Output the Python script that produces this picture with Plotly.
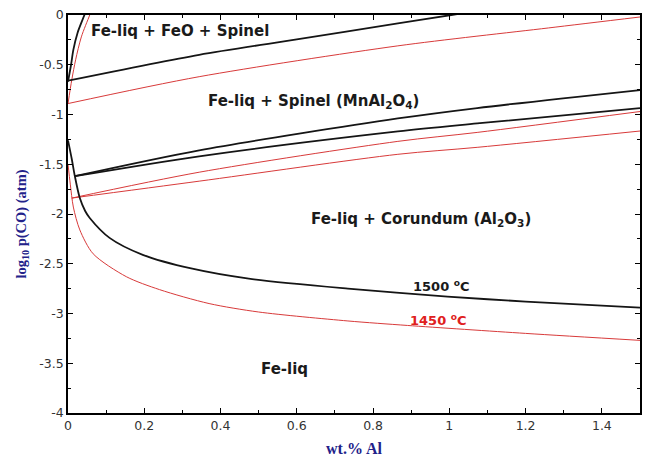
import plotly.graph_objects as go

# Phase boundaries, log10 p(CO) vs wt.% Al, at 1500 C (black) and 1450 C (red)

# Fe-liq / FeO boundary (steep, near zero Al)
feo_steep_1500_x = [0.0, 0.008, 0.014, 0.025, 0.043, 0.05]
feo_steep_1500_y = [-0.67, -0.50, -0.35, -0.18, 0.0, 0.08]
feo_steep_1450_x = [0.0, 0.01, 0.02, 0.035, 0.057, 0.065]
feo_steep_1450_y = [-0.89, -0.65, -0.45, -0.22, 0.0, 0.08]

# FeO + Spinel / Spinel boundary
feo_sp_1500_x = [0.0, 0.344, 0.6, 0.865, 1.005, 1.1]
feo_sp_1500_y = [-0.66, -0.40, -0.245, -0.084, 0.0, 0.055]
feo_sp_1450_x = [0.0, 0.344, 0.865, 1.26, 1.5]
feo_sp_1450_y = [-0.89, -0.62, -0.31, -0.13, -0.02]

# Spinel / Corundum boundaries (pair per temperature)
sp_cor_a_1500_x = [0.018, 0.344, 0.865, 1.073, 1.5]
sp_cor_a_1500_y = [-1.62, -1.36, -1.04, -0.935, -0.754]
sp_cor_b_1500_x = [0.018, 0.344, 0.865, 1.073, 1.5]
sp_cor_b_1500_y = [-1.62, -1.42, -1.17, -1.09, -0.935]
sp_cor_a_1450_x = [0.01, 0.344, 0.865, 1.073, 1.5]
sp_cor_a_1450_y = [-1.84, -1.58, -1.27, -1.18, -0.97]
sp_cor_b_1450_x = [0.01, 0.344, 0.865, 1.073, 1.5]
sp_cor_b_1450_y = [-1.84, -1.67, -1.40, -1.33, -1.166]

# Fe-liq / Corundum boundary
liq_cor_1500_x = [0.0, 0.01, 0.018, 0.031, 0.045, 0.057, 0.109, 0.196, 0.326, 0.474, 0.734, 0.995, 1.2, 1.5]
liq_cor_1500_y = [-1.26, -1.45, -1.62, -1.84, -1.97, -2.04, -2.24, -2.41, -2.55, -2.65, -2.75, -2.83, -2.88, -2.94]
liq_cor_1450_x = [0.0, 0.006, 0.014, 0.031, 0.066, 0.153, 0.24, 0.37, 0.5, 0.734, 0.89, 1.2, 1.5]
liq_cor_1450_y = [-1.50, -1.70, -1.93, -2.16, -2.40, -2.63, -2.76, -2.90, -2.985, -3.075, -3.12, -3.20, -3.27]

x_ticks = [0, 0.2, 0.4, 0.6, 0.8, 1.0, 1.2, 1.4]
x_tick_text = ["0", "0.2", "0.4", "0.6", "0.8", "1", "1.2", "1.4"]
y_ticks = [0, -0.5, -1, -1.5, -2, -2.5, -3, -3.5, -4]
y_tick_text = ["0", "-0.5", "-1", "-1.5", "-2", "-2.5", "-3", "-3.5", "-4"]

BLACK = "#151515"
RED = "#d83a3a"

fig = go.Figure()

curves = [
    (feo_steep_1500_x, feo_steep_1500_y, BLACK, 1.8),
    (feo_steep_1450_x, feo_steep_1450_y, RED, 1.0),
    (feo_sp_1500_x, feo_sp_1500_y, BLACK, 1.8),
    (feo_sp_1450_x, feo_sp_1450_y, RED, 1.0),
    (sp_cor_a_1500_x, sp_cor_a_1500_y, BLACK, 1.8),
    (sp_cor_b_1500_x, sp_cor_b_1500_y, BLACK, 1.8),
    (sp_cor_a_1450_x, sp_cor_a_1450_y, RED, 1.0),
    (sp_cor_b_1450_x, sp_cor_b_1450_y, RED, 1.0),
    (liq_cor_1500_x, liq_cor_1500_y, BLACK, 1.8),
    (liq_cor_1450_x, liq_cor_1450_y, RED, 1.0),
]
for xs, ys, col, w in curves:
    fig.add_trace(go.Scatter(
        x=xs, y=ys, mode="lines",
        line=dict(color=col, width=w, shape="spline", smoothing=0.8),
        showlegend=False, hoverinfo="skip",
    ))

labels = [
    (0.295, -0.16, "<b>Fe-liq + FeO + Spinel</b>", "#1a1a1a", 15),
    (0.645, -0.865, "<b>Fe-liq + Spinel (MnAl<sub>2</sub>O<sub>4</sub>)</b>", "#1a1a1a", 15),
    (0.925, -2.06, "<b>Fe-liq + Corundum (Al<sub>2</sub>O<sub>3</sub>)</b>", "#1a1a1a", 15),
    (0.98, -2.72, "<b>1500 <sup>o</sup>C</b>", "#1a1a1a", 13),
    (0.972, -3.065, "<b>1450 <sup>o</sup>C</b>", "#e02020", 13),
    (0.569, -3.56, "<b>Fe-liq</b>", "#1a1a1a", 15),
]
for x, y, t, c, s in labels:
    fig.add_annotation(x=x, y=y, xref="x", yref="y", text=t, showarrow=False,
                       font=dict(family="DejaVu Sans", size=s, color=c),
                       xanchor="center", yanchor="middle")

fig.add_annotation(x=0.5, y=-0.09, xref="paper", yref="paper",
                   text="<b>wt.% Al</b>", showarrow=False,
                   font=dict(family="Liberation Serif", size=16, color="#22228a"),
                   xanchor="center", yanchor="middle")
fig.add_annotation(x=-0.081, y=0.475, xref="paper", yref="paper",
                   text="<b>log<sub>10</sub> p(CO) (atm)</b>", showarrow=False,
                   font=dict(family="Liberation Serif", size=14.5, color="#22228a"),
                   textangle=-90, xanchor="center", yanchor="middle")

axis_common = dict(
    showline=True, linecolor="black", linewidth=1.5, mirror="ticks",
    ticks="inside", ticklen=5, tickwidth=1.3, tickcolor="black",
    showgrid=False, zeroline=False,
    tickfont=dict(family="DejaVu Sans", size=12.5, color="#333333"),
)

fig.update_xaxes(range=[0, 1.5], tickvals=x_ticks, ticktext=x_tick_text,
                 minor=dict(ticks="inside", ticklen=3, dtick=0.1, tickcolor="black", tickwidth=1.3),
                 **axis_common)
fig.update_yaxes(range=[-4, 0], tickvals=y_ticks, ticktext=y_tick_text,
                 minor=dict(ticks="inside", ticklen=3, dtick=0.25, tickcolor="black", tickwidth=1.3),
                 **axis_common)

fig.update_layout(
    width=645, height=460,
    margin=dict(l=68, r=3, t=15, b=47),
    plot_bgcolor="white", paper_bgcolor="white",
)

fig.write_html("out.html")
